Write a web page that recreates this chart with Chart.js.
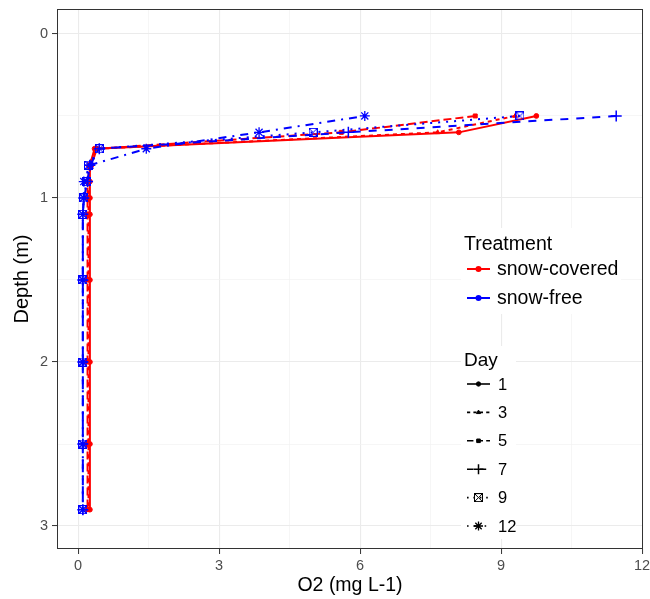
<!DOCTYPE html>
<html>
<head>
<meta charset="utf-8">
<script src="https://cdn.jsdelivr.net/npm/chart.js@4.4.1/dist/chart.umd.min.js"></script>
<style>
  html, body { margin: 0; padding: 0; background: #fff; }
  #wrap { width: 650px; height: 599px; position: relative; }
</style>
</head>
<body>
<div id="wrap"><canvas id="chart"></canvas></div>
<script>
// ================== DATA ==================
const depths = [0.5, 0.6, 0.7, 0.8, 0.9, 1.0, 1.1, 1.5, 2.0, 2.5, 2.9];

// snow-covered (red)
const coveredDay1 = [9.75, 8.10, 0.35, 0.25, 0.25, 0.25, 0.25, 0.25, 0.25, 0.25, 0.25];
const coveredDay3 = [9.30, 7.65, 0.40, 0.22, 0.22, 0.22, 0.22, 0.22, 0.22, 0.22, 0.22];
const coveredDay5 = [8.45, 5.60, 0.40, 0.28, 0.20, 0.20, 0.20, 0.20, 0.20, 0.20, 0.20];
// snow-free (blue)
const freeDay7  = [11.45, 5.75, 0.45, 0.25, 0.20, 0.12, 0.10, 0.10, 0.10, 0.10, 0.10];
const freeDay9  = [9.40, 5.00, 0.45, 0.22, 0.18, 0.12, 0.10, 0.10, 0.10, 0.10, 0.10];
const freeDay12 = [6.10, 3.85, 1.45, 0.25, 0.12, 0.12, 0.10, 0.10, 0.10, 0.10, 0.10];

const treatments = ["snow-covered", "snow-free"];
const days = ["1", "3", "5", "7", "9", "12"];
const xTicks = [0, 3, 6, 9, 12];
const yTicks = [0, 1, 2, 3];

// ================== STYLE HELPERS ==================
const FONT = '"Liberation Sans", Arial, Helvetica, sans-serif';
const treatColor = { "snow-covered": "#FF0000", "snow-free": "#0000FF" };

function boxX(color) {
  const c = document.createElement("canvas");
  c.width = 9; c.height = 9;
  const g = c.getContext("2d");
  g.strokeStyle = color; g.lineWidth = 1;
  g.strokeRect(0.5, 0.5, 8, 8);
  g.beginPath();
  g.moveTo(0.5, 0.5); g.lineTo(8.5, 8.5);
  g.moveTo(8.5, 0.5); g.lineTo(0.5, 8.5);
  g.stroke();
  return c;
}

// ggplot default linetypes / shapes per day
const dayStyle = {
  "1":  { dash: [],          shape: "circle",   r: 2.4, bw: 1 },
  "3":  { dash: [4, 4],      shape: "triangle", r: 2.6, bw: 1 },
  "5":  { dash: [8, 4],      shape: "rect",     r: 2.8, bw: 1 },
  "7":  { dash: [8, 8],      shape: "cross",    r: 5.5, bw: 1.5 },
  "9":  { dash: [2, 6],      shape: "boxX",     r: 4.5, bw: 1 },
  "12": { dash: [2, 6, 8, 6], shape: "star",    r: 5.0, bw: 1.3 },
};

function mkSeries(treat, day, vals) {
  const col = treatColor[treat];
  const st = dayStyle[day];
  return {
    label: treat + " / day " + day,
    data: depths.map((d, i) => ({ x: vals[i], y: d })),
    showLine: true,
    borderColor: col,
    backgroundColor: col,
    borderWidth: 2,
    borderDash: st.dash,
    pointStyle: st.shape === "boxX" ? boxX(col) : st.shape,
    pointRadius: st.r,
    pointBorderWidth: st.bw,
    pointBackgroundColor: col,
    pointBorderColor: col,
    order: treat === "snow-covered" ? 1 : 0,
  };
}

const datasets = [
  mkSeries("snow-free", "7", freeDay7),
  mkSeries("snow-free", "9", freeDay9),
  mkSeries("snow-free", "12", freeDay12),
  mkSeries("snow-covered", "1", coveredDay1),
  mkSeries("snow-covered", "3", coveredDay3),
  mkSeries("snow-covered", "5", coveredDay5),
];

// gridlines: majors at tick values, minors halfway
function withMinors(ticks) {
  const out = [];
  ticks.forEach((t, i) => {
    out.push(t);
    if (i < ticks.length - 1) out.push((t + ticks[i + 1]) / 2);
  });
  return out;
}
const isMajor = (v, arr) => arr.some(t => Math.abs(t - v) < 1e-9);

function gridOpts(arr) {
  return {
    color: c => isMajor(c.tick.value, arr) ? "#EBEBEB" : "#F2F2F2",
    lineWidth: c => isMajor(c.tick.value, arr) ? 1.1 : 0.7,
    tickColor: c => isMajor(c.tick.value, arr) ? "#333333" : "rgba(0,0,0,0)",
    tickLength: 5,
    tickWidth: 1,
    drawOnChartArea: true,
  };
}

// ================== PANEL BORDER + LEGENDS ==================
const drawPoint = (Chart.helpers && Chart.helpers.drawPoint) || null;

const ggExtras = {
  id: "ggExtras",
  afterDraw(chart) {
    const ctx = chart.ctx;
    const a = chart.chartArea;
    ctx.save();
    ctx.strokeStyle = "#333333";
    ctx.lineWidth = 1;
    ctx.setLineDash([]);
    ctx.strokeRect(Math.round(a.left) + 0.5, Math.round(a.top) + 0.5,
                   Math.round(a.right - a.left) - 1, Math.round(a.bottom - a.top) - 1);

    // legend backgrounds
    ctx.fillStyle = "#FFFFFF";
    ctx.fillRect(461, 228, 160, 86);
    ctx.fillRect(461, 346, 55, 193);

    // Treatment legend
    ctx.fillStyle = "#000";
    ctx.font = "19.5px " + FONT;
    ctx.textBaseline = "alphabetic";
    ctx.textAlign = "left";
    ctx.fillText("Treatment", 464, 250);
    treatments.forEach((t, i) => {
      const y = 269 + i * 29;
      const col = treatColor[t];
      ctx.strokeStyle = col; ctx.fillStyle = col; ctx.lineWidth = 2;
      ctx.beginPath(); ctx.moveTo(467, y); ctx.lineTo(490, y); ctx.stroke();
      ctx.beginPath(); ctx.arc(478.5, y, 3, 0, Math.PI * 2); ctx.fill();
      ctx.fillStyle = "#000";
      ctx.textBaseline = "middle";
      ctx.font = "19.5px " + FONT;
      ctx.fillText(t, 497, y + 1);
    });

    // Day legend
    ctx.textBaseline = "alphabetic";
    ctx.fillStyle = "#000";
    ctx.font = "19px " + FONT;
    ctx.fillText("Day", 464, 366);
    days.forEach((d, i) => {
      const y = 384 + i * 28.4;
      const st = dayStyle[d];
      ctx.strokeStyle = "#000"; ctx.fillStyle = "#000"; ctx.lineWidth = 1.6;
      ctx.setLineDash(st.dash.map(v => v * 0.8));
      ctx.beginPath(); ctx.moveTo(467, y); ctx.lineTo(490, y); ctx.stroke();
      ctx.setLineDash([]);
      const ps = st.shape === "boxX" ? boxX("#000") : st.shape;
      if (drawPoint) {
        ctx.lineWidth = st.bw;
        drawPoint(ctx, { pointStyle: ps, radius: st.r * 0.9, borderWidth: st.bw, rotation: 0 }, 478.5, y);
      }
      ctx.fillStyle = "#000";
      ctx.textBaseline = "middle";
      ctx.font = "16.5px " + FONT;
      ctx.fillText(d, 498, y + 1);
    });
    ctx.restore();
  }
};

// ================== CHART ==================
const xGrid = withMinors(xTicks);
const yGrid = withMinors(yTicks);

new Chart(document.getElementById("chart"), {
  type: "scatter",
  data: { datasets },
  options: {
    responsive: true,
    maintainAspectRatio: false,
    animation: false,
    events: [],
    layout: { padding: { left: 0, top: 9, right: 7, bottom: 0 } },
    plugins: { legend: { display: false }, tooltip: { enabled: false } },
    scales: {
      x: {
        type: "linear",
        min: -0.45, max: 12.02,
        afterBuildTicks: s => { s.ticks = xGrid.map(v => ({ value: v })); },
        afterFit: s => { s.height = 50; s.paddingLeft = 0; s.paddingRight = 0; },
        ticks: {
          autoSkip: false, maxRotation: 0,
          callback: v => isMajor(v, xTicks) ? String(v) : "",
          color: "#4D4D4D", font: { family: FONT, size: 14.5 }, padding: 3,
        },
        grid: gridOpts(xTicks),
        border: { display: false },
        title: { display: true, text: "O2 (mg L-1)", color: "#000",
                 font: { family: FONT, size: 19.5 }, padding: { top: 0, bottom: 2 } },
      },
      y: {
        type: "linear",
        reverse: true,
        min: -0.152, max: 3.14,
        afterBuildTicks: s => { s.ticks = yGrid.map(v => ({ value: v })); },
        afterFit: s => { s.width = 57; s.paddingTop = 0; s.paddingBottom = 0; },
        ticks: {
          autoSkip: false,
          callback: v => isMajor(v, yTicks) ? String(v) : "",
          color: "#4D4D4D", font: { family: FONT, size: 14.5 }, padding: 4,
        },
        grid: gridOpts(yTicks),
        border: { display: false },
        title: { display: true, text: "Depth (m)", color: "#000",
                 font: { family: FONT, size: 20 }, padding: { top: 10, bottom: 0 } },
      },
    },
  },
  plugins: [ggExtras],
});
</script>
</body>
</html>
